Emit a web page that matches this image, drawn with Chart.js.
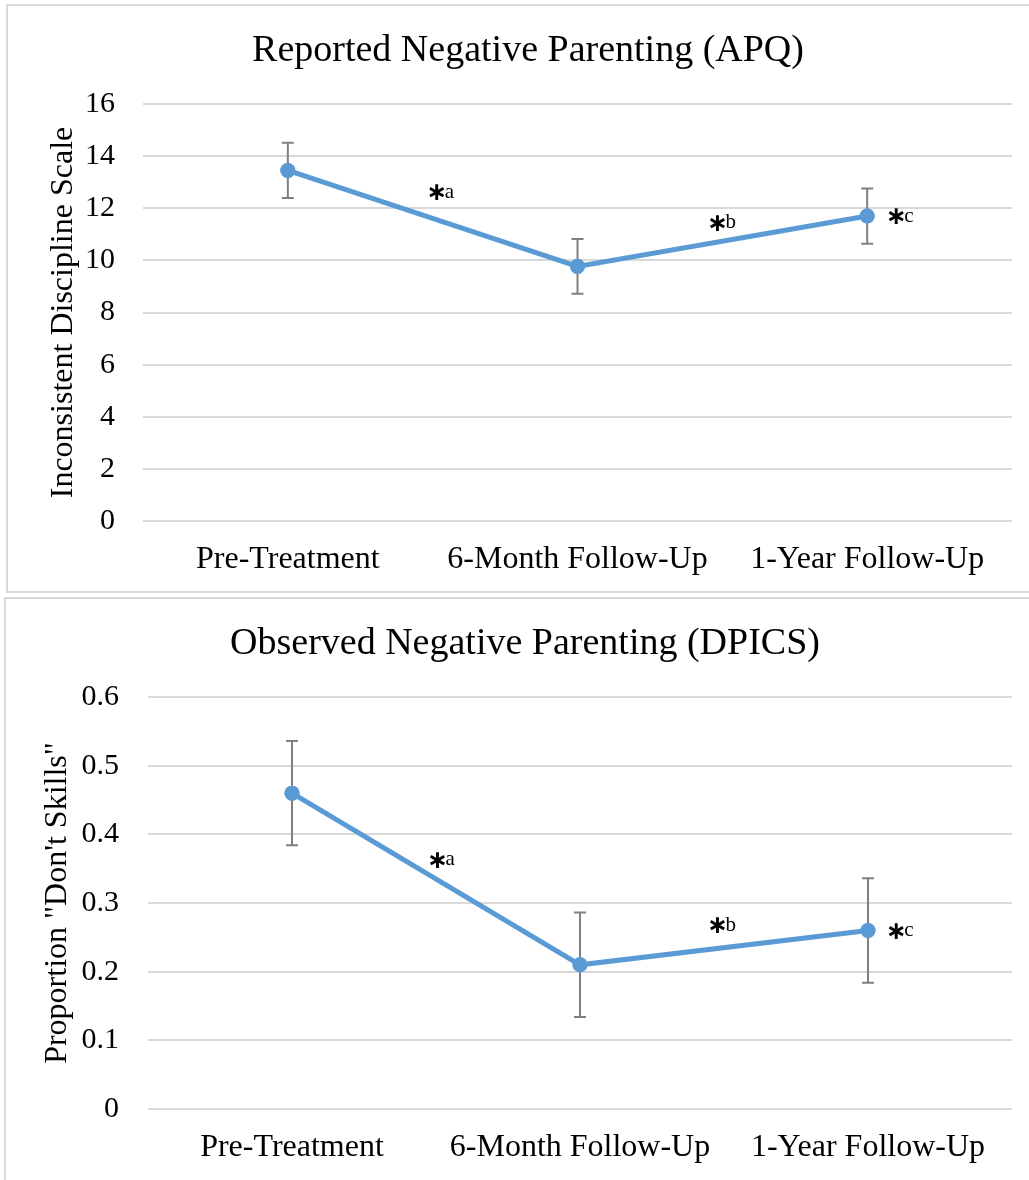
<!DOCTYPE html>
<html>
<head>
<meta charset="utf-8">
<script src="https://cdn.jsdelivr.net/npm/chart.js@4.4.1/dist/chart.umd.min.js"></script>
<style>
  html, body { margin:0; padding:0; background:#fff; overflow:hidden; width:1029px; height:1180px; }
  .panel { position:absolute; box-sizing:border-box; border:2px solid #d9d9d9; }
  canvas { position:absolute; left:0; }
</style>
</head>
<body>
<div class="panel" style="left:6px; top:4px; width:1100px; height:589px;"></div>
<div class="panel" style="left:4px; top:597px; width:1100px; height:700px;"></div>
<canvas id="c1" width="1029" height="592" style="top:0px;"></canvas>
<canvas id="c2" width="1029" height="588" style="top:592px;"></canvas>
<script>
// ---- data ----
const categories = ["Pre-Treatment", "6-Month Follow-Up", "1-Year Follow-Up"];

const apqTitle = "Reported Negative Parenting (APQ)";
const apqAxisTitle = "Inconsistent Discipline Scale";
const apqMeans = [13.45, 9.77, 11.70];
const apqErrors = [1.06, 1.05, 1.06];
const apqTicks = { min: 0, max: 16, step: 2 };

const dpicsTitle = "Observed Negative Parenting (DPICS)";
const dpicsAxisTitle = "Proportion \"Don't Skills\"";
const dpicsMeans = [0.46, 0.21, 0.26];
const dpicsErrors = [0.076, 0.076, 0.076];
const dpicsTicks = { min: 0, max: 0.6, step: 0.1 };

// significance notes: label letter, category position, value position
const noteLetters = ["a", "b", "c"];
const apqNoteX = [0.514, 1.483, 2.10];
const apqNoteY = [12.59, 11.43, 11.67];
const dpicsNoteX = [0.505, 1.477, 2.098];
const dpicsNoteY = [0.362, 0.267, 0.259];

// ---- styling ----
const FONT = "'Liberation Serif', 'Times New Roman', serif";
const LINE_COLOR = "#5B9BD5";
const ERR_COLOR = "#808080";
const GRID_COLOR = "#d9d9d9";

const errorBarsPlugin = {
  id: "errorBars",
  afterDatasetsDraw(chart, args, opts) {
    const ctx = chart.ctx;
    const meta = chart.getDatasetMeta(0);
    const ys = chart.scales.y;
    const means = chart.data.datasets[0].data;
    ctx.save();
    ctx.strokeStyle = ERR_COLOR;
    ctx.lineWidth = 2;
    meta.data.forEach((pt, i) => {
      const e = opts.errors[i];
      const yTop = ys.getPixelForValue(means[i] + e);
      const yBot = ys.getPixelForValue(means[i] - e);
      const x = pt.x;
      ctx.beginPath();
      ctx.moveTo(x, yTop); ctx.lineTo(x, yBot);
      ctx.moveTo(x - 6, yTop); ctx.lineTo(x + 6, yTop);
      ctx.moveTo(x - 6, yBot); ctx.lineTo(x + 6, yBot);
      ctx.stroke();
    });
    // redraw points above bars
    ctx.fillStyle = LINE_COLOR;
    meta.data.forEach(pt => {
      ctx.beginPath();
      ctx.arc(pt.x, pt.y, 7.5, 0, Math.PI * 2);
      ctx.fill();
    });
    ctx.restore();
  }
};

const notesPlugin = {
  id: "notes",
  afterDraw(chart, args, opts) {
    const ctx = chart.ctx;
    const xs = chart.scales.x, ys = chart.scales.y;
    ctx.save();
    ctx.fillStyle = "#000";
    opts.letters.forEach((L, i) => {
      const x = xs.getPixelForValue(opts.xs[i]);
      const y = ys.getPixelForValue(opts.ys[i]);
      ctx.textBaseline = "middle";
      ctx.textAlign = "center";
      ctx.font = "bold 25px 'DejaVu Sans'";
      ctx.fillText("\u2217", x, y + 1);
      ctx.textAlign = "left";
      ctx.textBaseline = "alphabetic";
      ctx.font = "21px " + FONT;
      ctx.fillText(L, x + 8, y + 5);
    });
    ctx.restore();
  }
};

function makeChart(canvasId, title, axisTitle, means, errors, ticks, noteX, noteY, padLeft, yWidth, tickPad, titlePad) {
  return new Chart(document.getElementById(canvasId), {
    type: "line",
    data: {
      labels: categories,
      datasets: [{
        data: means,
        borderColor: LINE_COLOR,
        backgroundColor: LINE_COLOR,
        borderWidth: 5,
        pointRadius: 7.5,
        pointHoverRadius: 7.5,
        pointBorderWidth: 0,
        tension: 0
      }]
    },
    options: {
      responsive: false,
      animation: false,
      devicePixelRatio: 1,
      layout: { padding: { left: padLeft, right: 17, top: 0, bottom: 0 } },
      plugins: {
        legend: { display: false },
        tooltip: { enabled: false },
        title: {
          display: true, text: title, color: "#000",
          font: { family: FONT, size: 38, weight: "normal" },
          padding: titlePad
        },
        errorBars: { errors: errors },
        notes: { letters: noteLetters, xs: noteX, ys: noteY }
      },
      scales: {
        x: {
          offset: true,
          grid: { display: false, drawTicks: false },
          border: { display: false },
          ticks: { color: "#000", font: { family: FONT, size: 32 }, padding: 19, maxRotation: 0, autoSkip: false },
          afterFit(s) { s.height = 71; }
        },
        y: {
          min: ticks.min, max: ticks.max,
          ticks: { stepSize: ticks.step, color: "#000", font: { family: FONT, size: 30 }, padding: tickPad },
          grid: { color: GRID_COLOR, lineWidth: 2, drawTicks: false },
          border: { display: false },
          title: { display: true, text: axisTitle, color: "#000", font: { family: FONT, size: 32 }, padding: { top: 0, bottom: 0 } },
          afterFit(s) { s.width = yWidth; }
        }
      }
    },
    plugins: [errorBarsPlugin, notesPlugin]
  });
}

makeChart("c1", apqTitle, apqAxisTitle, apqMeans, apqErrors, apqTicks, apqNoteX, apqNoteY, 44, 99, 28, { top: 28.2, bottom: 30.2 });
makeChart("c2", dpicsTitle, dpicsAxisTitle, dpicsMeans, dpicsErrors, dpicsTicks, dpicsNoteX, dpicsNoteY, 38, 110, 29, { top: 29.2, bottom: 30.2 });
</script>
</body>
</html>
